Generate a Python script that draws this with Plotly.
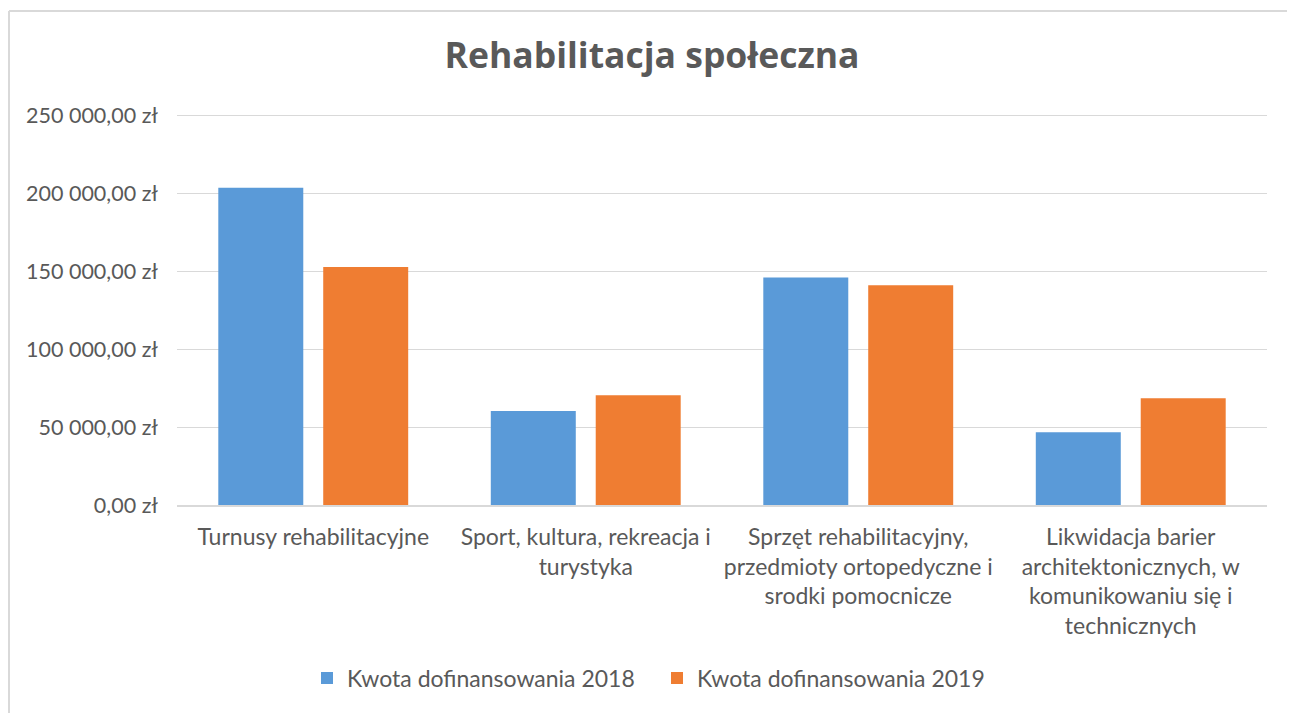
import plotly.graph_objects as go

categories = [
    "Turnusy rehabilitacyjne",
    "Sport, kultura, rekreacja i<br>turystyka",
    "Sprzęt rehabilitacyjny,<br>przedmioty ortopedyczne i<br>srodki pomocnicze",
    "Likwidacja barier<br>architektonicznych, w<br>komunikowaniu się i<br>technicznych",
]
values_2018 = [203500, 60200, 145800, 46700]
values_2019 = [152600, 70300, 140900, 68400]
series_names = ["Kwota dofinansowania 2018", "Kwota dofinansowania 2019"]
tick_vals = [0, 50000, 100000, 150000, 200000, 250000]
tick_text = ["0,00 zł", "50 000,00 zł", "100 000,00 zł", "150 000,00 zł",
             "200 000,00 zł", "250 000,00 zł"]

FONT = "Lato, 'Open Sans', sans-serif"
TITLE_FONT = "'Open Sans', Lato, sans-serif"
GREY = "#595959"

# figure placed at the page's default 8px body offset
W, H = 1287, 705
l, r, t, b = 169, 28, 104, 208
pw, ph = W - l - r, H - t - b

fig = go.Figure()
fig.add_trace(go.Bar(x=categories, y=values_2018, name=series_names[0],
                     marker=dict(color="#5A9AD8", line=dict(width=0))))
fig.add_trace(go.Bar(x=categories, y=values_2019, name=series_names[1],
                     marker=dict(color="#EF7D32", line=dict(width=0))))

fig.update_layout(
    width=W, height=H,
    paper_bgcolor="white", plot_bgcolor="white",
    margin=dict(l=l, r=r, t=t, b=b),
    barmode="group", bargap=0.23, bargroupgap=0.19,
    font=dict(family=FONT, size=23, color=GREY),
    title=dict(text="<b>Rehabilitacja społeczna</b>", x=(652 - 8) / W, xanchor="center",
               y=1 - 48 / H, yanchor="middle",
               font=dict(family=TITLE_FONT, size=35.5, color=GREY)),
    legend=dict(orientation="h", x=(657 - 8 - l) / pw, xanchor="center",
                y=(H - b - 670) / ph, yanchor="middle",
                font=dict(family=FONT, size=23, color=GREY), itemwidth=30,
                entrywidth=305, traceorder="normal"),
    showlegend=True,
)
fig.update_yaxes(range=[0, 252000], tickvals=tick_vals, ticktext=tick_text,
                 showgrid=True, gridcolor="#D9D9D9", gridwidth=1,
                 zeroline=False, showline=False, ticks="", ticklen=0,
                 ticklabelstandoff=18,
                 tickfont=dict(family=FONT, size=21.5, color=GREY))
fig.update_xaxes(showline=True, linecolor="#D9D9D9", linewidth=2, ticks="",
                 ticklabelstandoff=10,
                 tickfont=dict(family=FONT, size=23, color=GREY))

def px(x):
    return (x - l) / pw
def py(y):
    return (H - b - y) / ph
fig.add_shape(type="line", xref="paper", yref="paper",
              x0=px(1), x1=px(W + 10), y0=py(3), y1=py(3),
              line=dict(color="#D9D9D9", width=2))
fig.add_shape(type="line", xref="paper", yref="paper",
              x0=px(1), x1=px(1), y0=py(3), y1=py(H + 10),
              line=dict(color="#D9D9D9", width=2))

fig.write_html("out.html")
